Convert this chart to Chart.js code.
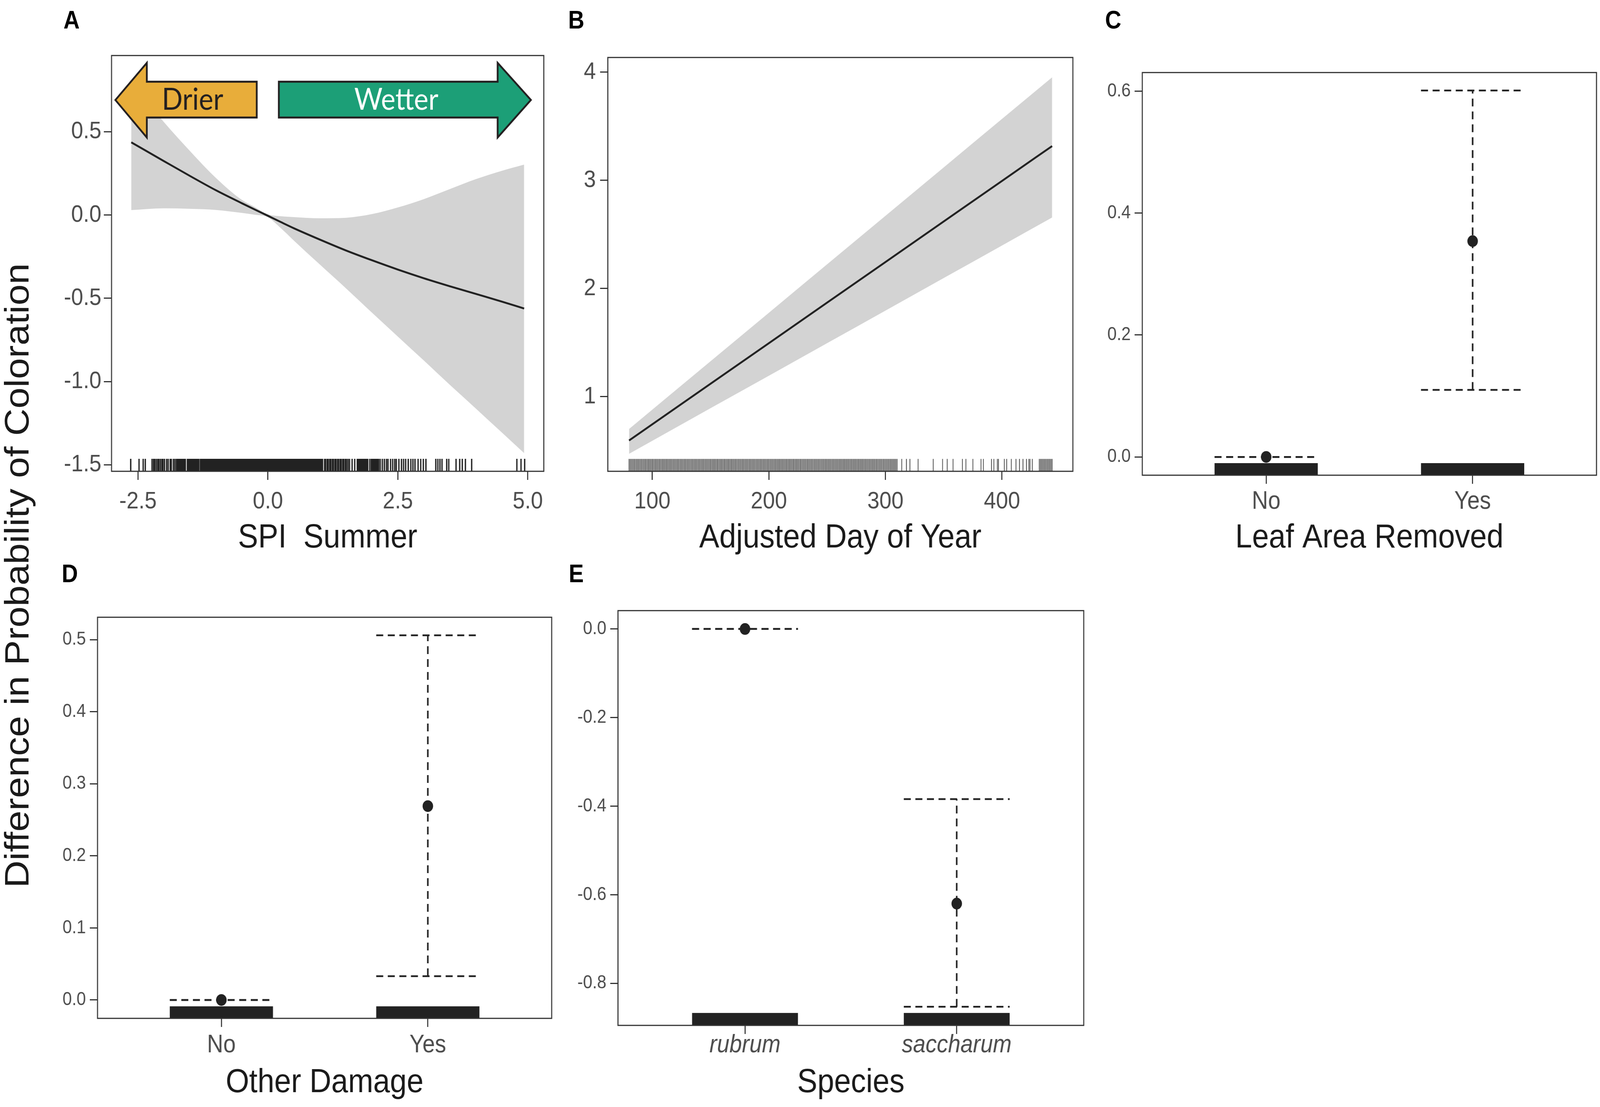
<!DOCTYPE html>
<html lang="en">
<head>
  <meta charset="UTF-8">
  <title>Difference in Probability of Coloration</title>
  <script src="https://cdn.jsdelivr.net/npm/chart.js"></script>
  <style>
    html, body { margin: 0; padding: 0; background: #fff; overflow: hidden; }
    #page {
      position: absolute;
      left: 0;
      top: 0;
      width: 4562px;
      height: 2835px;
      transform-origin: 0 0;
      font-family: 'Liberation Sans', Arial, sans-serif;
    }
    canvas { position: absolute; }
    .tag {
      position: absolute;
      font-size: 64px;
      font-weight: bold;
      color: #000;
      line-height: 1;
      transform: translate(-50%, -50%);
    }
    .ylab {
      position: absolute;
      left: 48px;
      top: 1474px;
      font-size: 97px;
      color: #1a1a1a;
      line-height: 1;
      white-space: nowrap;
      transform: translate(-50%, -50%) rotate(-90deg);
    }
  </style>
</head>
<body>
<div id="page">
  <div class="tag" style="left:204px;top:51px">A</div>
  <div class="tag" style="left:1643px;top:51px">B</div>
  <div class="tag" style="left:3174px;top:51px">C</div>
  <div class="tag" style="left:199px;top:1469px">D</div>
  <div class="tag" style="left:1643px;top:1469px">E</div>
  <div class="ylab">Difference in Probability of Coloration</div>

  <canvas id="panelA"></canvas>
  <canvas id="panelB"></canvas>
  <canvas id="panelC"></canvas>
  <canvas id="panelD"></canvas>
  <canvas id="panelE"></canvas>
</div>

<script>
  // ---- A: SPI summer ----
  const spiX     = [-2.63, -2, -1.5, -1, -0.5, -0.25, 0, 0.25, 0.5, 1, 1.5, 2, 2.5, 3, 3.5, 4, 4.5, 4.93];
  const spiFit   = [0.436, 0.323, 0.234, 0.148, 0.070, 0.032, -0.005, -0.043, -0.080, -0.148, -0.213, -0.272, -0.328, -0.380, -0.428, -0.474, -0.520, -0.562];
  const spiUpper = [0.80, 0.557, 0.384, 0.222, 0.090, 0.047, 0.004, -0.008, -0.013, -0.020, -0.017, 0.005, 0.045, 0.095, 0.155, 0.215, 0.265, 0.302];
  const spiLower = [0.029, 0.040, 0.037, 0.030, 0.012, 0.001, -0.014, -0.080, -0.154, -0.298, -0.440, -0.586, -0.730, -0.874, -1.020, -1.162, -1.306, -1.430];
  const spiRug = [
    -2.64, -2.48, -2.40, -2.36,
    -2.23, -2.20, -2.18, -2.15, -2.12, -2.10, -2.07, -2.04, -2.02, -1.99, -1.95, -1.92, -1.88, -1.86, -1.82, -1.79, -1.76,
    -1.74, -1.715, -1.69, -1.665, -1.64, -1.615, -1.59,
    -1.55, -1.525, -1.50, -1.475, -1.45, -1.425, -1.40, -1.375, -1.35, -1.33,
    -1.30, -1.275, -1.25, -1.225, -1.2, -1.175, -1.15, -1.125, -1.1, -1.075, -1.05, -1.025,
    -1, -0.975, -0.95, -0.925, -0.9, -0.875, -0.85, -0.825, -0.8, -0.775, -0.75, -0.725,
    -0.7, -0.675, -0.65, -0.625, -0.6, -0.575, -0.55, -0.525, -0.5, -0.475, -0.45, -0.425,
    -0.4, -0.375, -0.35, -0.325, -0.3, -0.275, -0.25, -0.225, -0.2, -0.175, -0.15, -0.125,
    -0.1, -0.075, -0.05, -0.025, 0, 0.025, 0.05, 0.075, 0.1, 0.125, 0.15, 0.175,
    0.2, 0.225, 0.25, 0.275, 0.3, 0.325, 0.35, 0.375, 0.4, 0.425, 0.45, 0.475,
    0.5, 0.525, 0.55, 0.575, 0.6, 0.625, 0.65, 0.675, 0.7, 0.725, 0.75, 0.775,
    0.8, 0.825, 0.85, 0.875, 0.9, 0.925, 0.95, 0.975, 1, 1.025, 1.05,
    1.09, 1.11, 1.14, 1.16, 1.19, 1.21, 1.24, 1.26, 1.29, 1.31, 1.34, 1.36, 1.39, 1.41, 1.44, 1.46, 1.49, 1.51,
    1.54, 1.57, 1.62, 1.67,
    1.72, 1.745, 1.77, 1.795, 1.82, 1.845, 1.87, 1.895, 1.92,
    1.96, 1.99,
    2.01, 2.035, 2.06, 2.085, 2.11, 2.13,
    2.16, 2.20, 2.24, 2.28, 2.31, 2.36, 2.40, 2.44, 2.47, 2.52, 2.57, 2.61, 2.65, 2.70, 2.75,
    2.79, 2.83, 2.89, 2.94, 2.99, 3.04,
    3.23, 3.27, 3.31, 3.35, 3.44, 3.48, 3.62, 3.69, 3.74, 3.80, 3.92,
    4.79, 4.87, 4.94
  ];
  const spiXTicks  = [-2.5, 0, 2.5, 5];
  const spiXLabels = ['-2.5', '0.0', '2.5', '5.0'];
  const spiYTicks  = [-1.5, -1, -0.5, 0, 0.5];
  const spiYLabels = ['-1.5', '-1.0', '-0.5', '0.0', '0.5'];

  // ---- B: adjusted day of year ----
  const dayX     = [80, 150, 200, 250, 300, 350, 400, 443];
  const dayFit   = [0.595, 1.120, 1.495, 1.870, 2.245, 2.620, 2.995, 3.317];
  const dayUpper = [0.701, 1.328, 1.776, 2.224, 2.672, 3.120, 3.568, 3.953];
  const dayLower = [0.472, 0.894, 1.194, 1.495, 1.796, 2.097, 2.398, 2.657];
  const dayRug = [
    80, 81, 82, 83, 84, 85, 86, 87, 88, 89, 90, 91, 92, 93, 94, 95, 96, 97, 98, 99,
    100, 101, 102, 103, 104, 105, 106, 107, 108, 109, 110, 111, 112, 113, 114, 115, 116, 117, 118, 119,
    120, 121, 122, 123, 124, 125, 126, 127, 128, 129, 130, 131, 132, 133, 134, 135, 136, 137, 138, 139,
    140, 141, 142, 143, 144, 145, 146, 147, 148, 149, 150, 151, 152, 153, 154, 155, 156, 157, 158, 159,
    160, 161, 162, 163, 164, 165, 166, 167, 168, 169, 170, 171, 172, 173, 174, 175, 176, 177, 178, 179,
    180, 181, 182, 183, 184, 185, 186, 187, 188, 189, 190, 191, 192, 193, 194, 195, 196, 197, 198, 199,
    200, 201, 202, 203, 204, 205, 206, 207, 208, 209, 210, 211, 212, 213, 214, 215, 216, 217, 218, 219,
    220, 221, 222, 223, 224, 225, 226, 227, 228, 229, 230, 231, 232, 233, 234, 235, 236, 237, 238, 239,
    240, 241, 242, 243, 244, 245, 246, 247, 248, 249, 250, 251, 252, 253, 254, 255, 256, 257, 258, 259,
    260, 261, 262, 263, 264, 265, 266, 267, 268, 269, 270, 271, 272, 273, 274, 275, 276, 277, 278, 279,
    280, 281, 282, 283, 284, 285, 286, 287, 288, 289, 290, 291, 292, 293, 294, 295, 296, 297, 298, 299,
    300, 301, 302, 303, 304, 305, 306, 307, 308, 309, 310,
    314, 318, 321, 328, 341, 349, 353, 358, 366, 369, 375, 382, 384, 391, 393, 396, 397,
    402, 404, 408, 412, 415, 418, 421, 423, 424, 426,
    432, 433, 434, 435, 436, 437, 438, 439, 440, 441, 442, 443
  ];
  const dayXTicks  = [100, 200, 300, 400];
  const dayXLabels = ['100', '200', '300', '400'];
  const dayYTicks  = [1, 2, 3, 4];
  const dayYLabels = ['1', '2', '3', '4'];

  // ---- C: leaf area removed ----
  const leafCats  = ['No', 'Yes'];
  const leafEst   = [0, 0.354];
  const leafLow   = [0, 0.110];
  const leafHigh  = [0, 0.601];
  const leafYTicks  = [0, 0.2, 0.4, 0.6];
  const leafYLabels = ['0.0', '0.2', '0.4', '0.6'];

  // ---- D: other damage ----
  const damageCats = ['No', 'Yes'];
  const damageEst  = [0, 0.269];
  const damageLow  = [0, 0.033];
  const damageHigh = [0, 0.506];
  const damageYTicks  = [0, 0.1, 0.2, 0.3, 0.4, 0.5];
  const damageYLabels = ['0.0', '0.1', '0.2', '0.3', '0.4', '0.5'];

  // ---- E: species ----
  const speciesCats = ['rubrum', 'saccharum'];
  const speciesEst  = [0, -0.620];
  const speciesLow  = [0, -0.853];
  const speciesHigh = [0, -0.384];
  const speciesYTicks  = [-0.8, -0.6, -0.4, -0.2, 0];
  const speciesYLabels = ['-0.8', '-0.6', '-0.4', '-0.2', '0.0'];

  // ---- look and layout ----
  const INK = '#222222';
  const TICK_INK = '#4d4d4d';
  const TITLE_INK = '#1a1a1a';
  const RIBBON = '#d3d3d3';
  const AXIS_W = 220, TOP_PAD = 30, RIGHT_PAD = 8, TICK_LEN = 22, TITLE_SIZE = 86;

  // panel boxes in page pixels [left, top, right, bottom]
  const layout = {
    A: { box: [318, 128, 1559, 1207], labelY: 1285, titleY: 1378 },
    B: { box: [1733, 128, 3059, 1207], labelY: 1285, titleY: 1378 },
    C: { box: [3257, 176, 4552, 1217], labelY: 1285, titleY: 1378 },
    D: { box: [278, 1571, 1573, 2608], labelY: 2677, titleY: 2773 },
    E: { box: [1762, 1554, 3090, 2626], labelY: 2677, titleY: 2773 }
  };

  // Drier / Wetter arrows, in panel A data units
  const spiArrows = {
    body: [0.585, 0.80], head: [0.465, 0.913], mid: 0.69,
    items: [
      { text: 'Drier', tip: -2.935, base: -2.33, end: -0.215, textX: -1.45, fill: '#e8ad3a', color: '#231f20' },
      { text: 'Wetter', tip: 5.06, base: 4.42, end: 0.21, textX: 2.47, fill: '#1c9f77', color: '#ffffff' }
    ]
  };

  // the drawing is laid out for 4562 x 2835; stretch it onto the real viewport
  const page = document.getElementById('page');
  page.style.transform = 'scale(' + (window.innerWidth / 4562) + ',' + (window.innerHeight / 2835) + ')';

  Chart.defaults.font.family = "'Liberation Sans', Arial, sans-serif";
  Chart.defaults.color = TICK_INK;

  const pts = (xs, ys) => xs.map((x, i) => ({ x, y: ys[i] }));

  function place(id, geo) {
    const [l, t, r, b] = geo.box;
    const left = l - AXIS_W, top = t - TOP_PAD;
    const right = r + RIGHT_PAD, bottom = geo.titleY + 60;
    const cv = document.getElementById(id);
    cv.width = right - left;
    cv.height = bottom - top;
    cv.style.left = left + 'px';
    cv.style.top = top + 'px';
    cv.style.width = cv.width + 'px';
    cv.style.height = cv.height + 'px';
    return {
      cv,
      xHeight: bottom - b,
      labelOff: geo.labelY - b,
      titlePad: bottom - geo.titleY - TITLE_SIZE * 0.6
    };
  }

  const tickGrid = { drawOnChartArea: false, tickLength: TICK_LEN, lineWidth: 3, color: '#333' };

  function xAxis(g, o) {
    return {
      type: 'linear', min: o.min, max: o.max,
      afterBuildTicks: s => { s.ticks = o.ticks.map(v => ({ value: v })); },
      afterFit: s => { s.height = g.xHeight; },
      grid: tickGrid,
      border: { display: false },
      ticks: {
        autoSkip: false, maxRotation: 0, color: TICK_INK,
        padding: g.labelOff - TICK_LEN - 0.6 * o.size,
        font: { size: o.size, style: o.italic ? 'italic' : 'normal' },
        callback: (v, i) => o.labels[i]
      },
      title: {
        display: true, text: o.title, color: TITLE_INK,
        font: { size: TITLE_SIZE }, padding: { top: 0, bottom: g.titlePad }
      }
    };
  }

  function yAxis(o) {
    return {
      type: 'linear', min: o.min, max: o.max,
      afterBuildTicks: s => { s.ticks = o.ticks.map(v => ({ value: v })); },
      afterFit: s => { s.width = AXIS_W; },
      grid: tickGrid,
      border: { display: false },
      ticks: {
        autoSkip: false, color: TICK_INK, padding: o.pad,
        font: { size: o.size },
        callback: (v, i) => o.labels[i]
      }
    };
  }

  // rug, arrows and the panel frame
  function panelDecor(o) {
    return {
      id: 'panelDecor',
      beforeDatasetsDraw(chart) {
        const { ctx, chartArea: a, scales: { x } } = chart;
        const len = 0.03 * (a.bottom - a.top);
        ctx.save();
        if (o.rug) {
          ctx.strokeStyle = o.rugColor;
          ctx.lineWidth = o.rugWidth;
          ctx.beginPath();
          o.rug.forEach(v => {
            const px = x.getPixelForValue(v);
            ctx.moveTo(px, a.bottom);
            ctx.lineTo(px, a.bottom - len);
          });
          ctx.stroke();
        }
        if (o.rugCats) {
          ctx.fillStyle = INK;
          o.rugCats.forEach((c, i) => {
            const l = x.getPixelForValue(i + 1 - 0.25), r = x.getPixelForValue(i + 1 + 0.25);
            ctx.fillRect(l, a.bottom - len, r - l, len);
          });
        }
        ctx.restore();
      },
      afterDatasetsDraw(chart) {
        const { ctx, chartArea: a, scales: { x, y } } = chart;
        ctx.save();
        if (o.arrows) {
          const ar = o.arrows;
          const bTop = y.getPixelForValue(ar.body[1]), bBot = y.getPixelForValue(ar.body[0]);
          const hTop = y.getPixelForValue(ar.head[1]), hBot = y.getPixelForValue(ar.head[0]);
          const mid = y.getPixelForValue(ar.mid);
          ar.items.forEach(it => {
            const t = x.getPixelForValue(it.tip), b = x.getPixelForValue(it.base), e = x.getPixelForValue(it.end);
            ctx.beginPath();
            ctx.moveTo(t, mid);
            ctx.lineTo(b, hTop);
            ctx.lineTo(b, bTop);
            ctx.lineTo(e, bTop);
            ctx.lineTo(e, bBot);
            ctx.lineTo(b, bBot);
            ctx.lineTo(b, hBot);
            ctx.closePath();
            ctx.fillStyle = it.fill;
            ctx.fill();
            ctx.lineWidth = 5;
            ctx.lineJoin = 'miter';
            ctx.strokeStyle = '#231f20';
            ctx.stroke();
            ctx.fillStyle = it.color;
            ctx.font = "78px Lato, 'Open Sans', sans-serif";
            ctx.textAlign = 'center';
            ctx.textBaseline = 'middle';
            ctx.fillText(it.text, x.getPixelForValue(it.textX), mid);
          });
        }
        ctx.lineWidth = 3;
        ctx.strokeStyle = '#333';
        ctx.strokeRect(a.left, a.top, a.right - a.left, a.bottom - a.top);
        ctx.restore();
      }
    };
  }

  function baseOptions(scales) {
    return {
      responsive: false,
      animation: false,
      events: [],
      layout: { padding: { top: TOP_PAD, right: RIGHT_PAD, left: 0, bottom: 0 }, autoPadding: false },
      plugins: { legend: { display: false }, tooltip: { enabled: false } },
      scales
    };
  }

  function curvePanel(id, geo, d) {
    const g = place(id, geo);
    return new Chart(g.cv, {
      type: 'line',
      data: {
        datasets: [
          { data: pts(d.x, d.fit), borderColor: INK, borderWidth: 5, pointRadius: 0, fill: false,
            cubicInterpolationMode: 'monotone', order: 0 },
          { data: pts(d.x, d.upper), borderColor: 'rgba(0,0,0,0)', borderWidth: 1, pointRadius: 0,
            fill: '+1', backgroundColor: RIBBON, cubicInterpolationMode: 'monotone', order: 1 },
          { data: pts(d.x, d.lower), borderColor: 'rgba(0,0,0,0)', borderWidth: 1, pointRadius: 0,
            fill: false, cubicInterpolationMode: 'monotone', order: 1 }
        ]
      },
      options: baseOptions({ x: xAxis(g, d.xa), y: yAxis(d.ya) }),
      plugins: [panelDecor(d.decor)]
    });
  }

  function effectPanel(id, geo, d) {
    const g = place(id, geo);
    const sets = [];
    d.est.forEach((e, i) => {
      const c = i + 1;
      [
        [{ x: c, y: d.low[i] }, { x: c, y: d.high[i] }],
        [{ x: c - 0.25, y: d.high[i] }, { x: c + 0.25, y: d.high[i] }],
        [{ x: c - 0.25, y: d.low[i] }, { x: c + 0.25, y: d.low[i] }]
      ].forEach(seg => sets.push({
        type: 'line', data: seg, borderColor: INK, borderWidth: 4.5, borderDash: [20, 13],
        pointRadius: 0, fill: false, order: 1
      }));
    });
    sets.push({
      type: 'scatter', data: d.est.map((e, i) => ({ x: i + 1, y: e })),
      pointRadius: 15, pointBackgroundColor: INK, pointBorderWidth: 0, order: 0
    });
    return new Chart(g.cv, {
      type: 'scatter',
      data: { datasets: sets },
      options: baseOptions({
        x: xAxis(g, { min: 0.4, max: 2.6, ticks: [1, 2], labels: d.cats, size: 64, italic: d.italic, title: d.title }),
        y: yAxis({ min: d.ymin, max: d.ymax, ticks: d.yticks, labels: d.ylabels, size: 48, pad: 11 })
      }),
      plugins: [panelDecor({ rugCats: d.cats })]
    });
  }

  function build() {
    curvePanel('panelA', layout.A, {
      x: spiX, fit: spiFit, upper: spiUpper, lower: spiLower,
      xa: { min: -3.009, max: 5.308, ticks: spiXTicks, labels: spiXLabels, size: 62, title: 'SPI  Summer' },
      ya: { min: -1.539, max: 0.957, ticks: spiYTicks, labels: spiYLabels, size: 62, pad: 7 },
      decor: { rug: spiRug, rugColor: INK, rugWidth: 3.8, arrows: spiArrows }
    });
    curvePanel('panelB', layout.B, {
      x: dayX, fit: dayFit, upper: dayUpper, lower: dayLower,
      xa: { min: 61.8, max: 460.8, ticks: dayXTicks, labels: dayXLabels, size: 62, title: 'Adjusted Day of Year' },
      ya: { min: 0.310, max: 4.136, ticks: dayYTicks, labels: dayYLabels, size: 62, pad: 12 },
      decor: { rug: dayRug, rugColor: '#3a3a3a', rugWidth: 2 }
    });
    effectPanel('panelC', layout.C, {
      cats: leafCats, est: leafEst, low: leafLow, high: leafHigh, title: 'Leaf Area Removed',
      ymin: -0.030, ymax: 0.6305, yticks: leafYTicks, ylabels: leafYLabels
    });
    effectPanel('panelD', layout.D, {
      cats: damageCats, est: damageEst, low: damageLow, high: damageHigh, title: 'Other Damage',
      ymin: -0.0255, ymax: 0.531, yticks: damageYTicks, ylabels: damageYLabels
    });
    effectPanel('panelE', layout.E, {
      cats: speciesCats, est: speciesEst, low: speciesLow, high: speciesHigh, title: 'Species', italic: true,
      ymin: -0.895, ymax: 0.0415, yticks: speciesYTicks, ylabels: speciesYLabels
    });
  }

  Promise.all([
    document.fonts.load("78px Lato"),
    document.fonts.load("62px 'Liberation Sans'"),
    document.fonts.load("italic 64px 'Liberation Sans'")
  ]).catch(() => {}).then(build);
</script>
</body>
</html>
